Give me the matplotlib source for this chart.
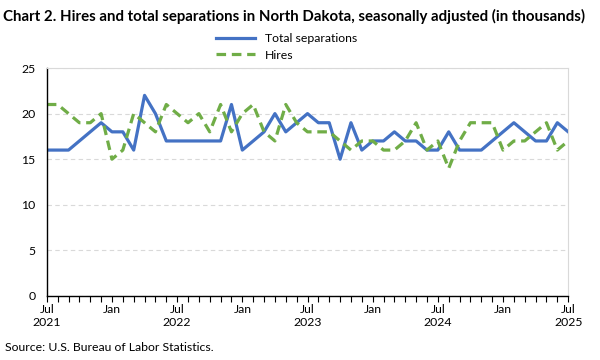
import matplotlib
matplotlib.use("Agg")
import matplotlib.pyplot as plt
from matplotlib.ticker import MultipleLocator

plt.rcParams['font.family'] = ['Lato', 'DejaVu Sans']

# monthly, Jul 2021 .. Jul 2025
separations = [16, 16, 16, 17, 18, 19, 18, 18, 16, 22, 20, 17,
               17, 17, 17, 17, 17, 21, 16, 17, 18, 20, 18, 19,
               20, 19, 19, 15, 19, 16, 17, 17, 18, 17, 17, 16,
               16, 18, 16, 16, 16, 17, 18, 19, 18, 17, 17, 19,
               18]
hires = [21, 21, 20, 19, 19, 20, 15, 16, 20, 19, 18, 21,
         20, 19, 20, 18, 21, 18, 20, 21, 18, 17, 21, 19,
         18, 18, 18, 17, 16, 17, 17, 16, 16, 17, 19, 16,
         17, 14, 17, 19, 19, 19, 16, 17, 17, 18, 19, 16,
         17]
tick_labels = ['Jul\n2021', 'Jan', 'Jul\n2022', 'Jan', 'Jul\n2023',
               'Jan', 'Jul\n2024', 'Jan', 'Jul\n2025']

x = list(range(len(separations)))

fig = plt.figure(figsize=(6, 3.6), dpi=100)
ax = fig.add_axes([0.078, 0.178, 0.869, 0.633])

ax.plot(x, separations, color='#4472C4', lw=2.3, label='Total separations')
ax.plot(x, hires, color='#70AD47', lw=2.3, ls=(0, (3, 1.8)), label='Hires')

ax.set_xlim(0, len(x) - 1)
ax.set_ylim(0, 25)
ax.yaxis.set_major_locator(MultipleLocator(5))
ax.set_xticks(range(0, len(x), 6))
ax.set_xticklabels(tick_labels)
ax.xaxis.set_minor_locator(MultipleLocator(1))
ax.tick_params(axis='x', which='both', direction='out', length=4, width=0.8,
               labelsize=8.8, colors='black', pad=2)
ax.tick_params(axis='y', length=0, labelsize=8.8, pad=8)

ax.grid(axis='y', color='#D9D9D9', ls=(0, (4, 3)), lw=0.8)
for side in ['top', 'right']:
    ax.spines[side].set_color('#D9D9D9')
for side in ['left', 'bottom']:
    ax.spines[side].set_color('black')
    ax.spines[side].set_linewidth(1)

ax.legend(loc='lower center', bbox_to_anchor=(0.46, 1.0), frameon=False,
          fontsize=8.8, handlelength=3.2, labelspacing=0.45, borderpad=0.1)

fig.text(0.005, 0.975, 'Chart 2. Hires and total separations in North Dakota, '
         'seasonally adjusted (in thousands)', fontsize=10.8, fontweight='bold',
         va='top', ha='left')
fig.text(0.008, 0.02, 'Source: U.S. Bureau of Labor Statistics.',
         fontsize=8.8, va='bottom', ha='left')

fig.savefig('out.png', dpi=100)
